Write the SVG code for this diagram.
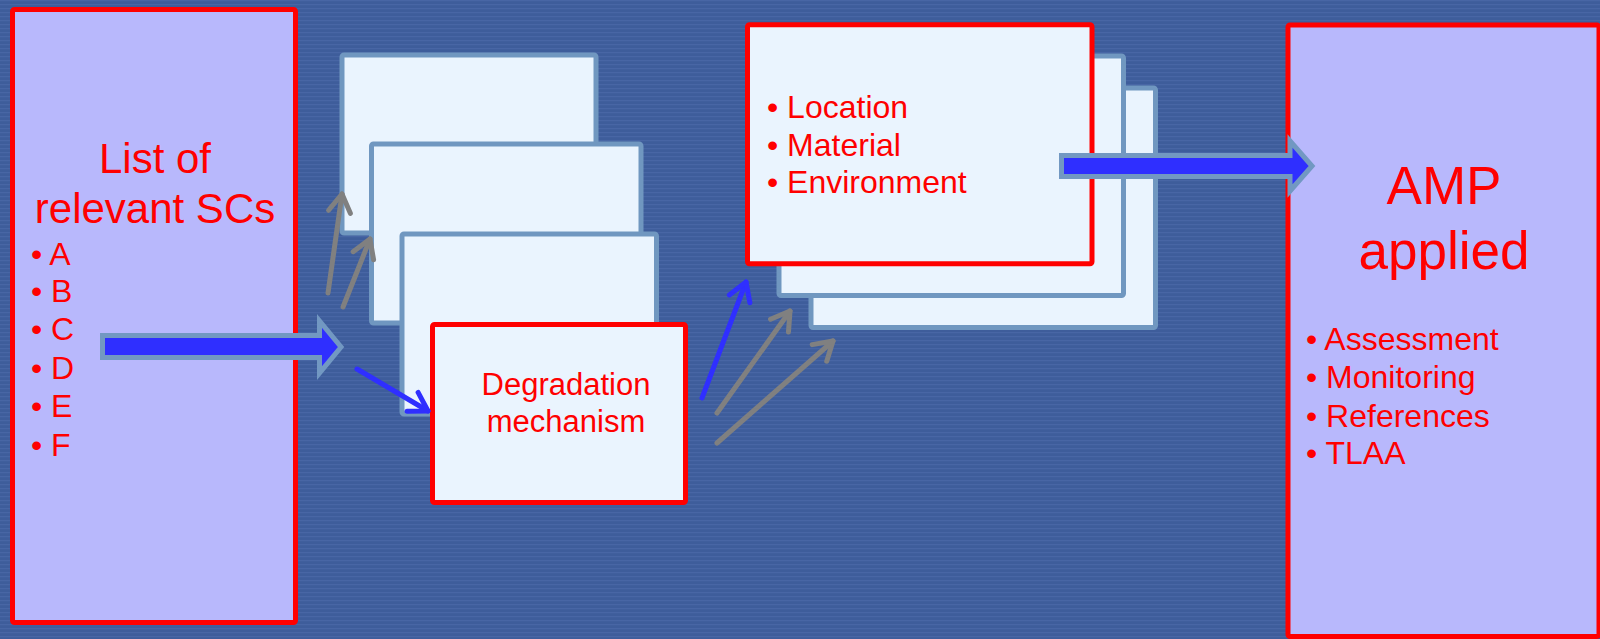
<svg xmlns="http://www.w3.org/2000/svg" width="1600" height="639" viewBox="0 0 1600 639">
  <defs>
    <pattern id="stripes" width="8" height="4" patternUnits="userSpaceOnUse">
      <rect width="8" height="4" fill="#3E5D9B"/>
      <rect y="0" width="8" height="1.2" fill="#4866A5"/>
    </pattern>
    <marker id="headGray" markerUnits="userSpaceOnUse" markerWidth="26" markerHeight="28" viewBox="-3 -2 26 28" refX="18" refY="12" orient="auto">
      <path d="M0,1 L18,12 L0,23" fill="none" stroke="#808080" stroke-width="5" stroke-linecap="round" stroke-linejoin="round"/>
    </marker>
    <marker id="headBlue" markerUnits="userSpaceOnUse" markerWidth="26" markerHeight="28" viewBox="-3 -2 26 28" refX="18" refY="12" orient="auto">
      <path d="M0,1 L18,12 L0,23" fill="none" stroke="#2F2FFF" stroke-width="5" stroke-linecap="round" stroke-linejoin="round"/>
    </marker>
  </defs>
  <style>
    .lav { fill: #B8B8FC; stroke: #FF0000; stroke-width: 5; }
    .card { fill: #EAF4FE; stroke: #7097C0; stroke-width: 5; }
    .front { fill: #EAF4FE; stroke: #FF0000; stroke-width: 5; }
    text { font-family: "Liberation Sans", Arial, sans-serif; fill: #FF0000; }
    .big { font-size: 42px; }
    .amp { font-size: 53px; }
    .item { font-size: 32px; }
    .deg { font-size: 31px; }
    .thin { fill: none; stroke-width: 5; stroke-linecap: round; }
    .gray { stroke: #808080; }
    .blue { stroke: #2F2FFF; }
    .fat { fill: #2F2FFF; stroke: #7298C2; stroke-width: 5; stroke-linejoin: miter; }
  </style>
  <rect width="1600" height="639" fill="url(#stripes)"/>

  <g id="node-list">
    <rect class="lav" x="12.5" y="9.5" width="283" height="613" rx="2"/>
    <text class="big" x="155" y="173" text-anchor="middle">List of</text>
    <text class="big" x="155" y="223" text-anchor="middle">relevant SCs</text>
    <text class="item" x="31" y="265">• A</text>
    <text class="item" x="31" y="302">• B</text>
    <text class="item" x="31" y="340">• C</text>
    <text class="item" x="31" y="379">• D</text>
    <text class="item" x="31" y="417">• E</text>
    <text class="item" x="31" y="456">• F</text>
  </g>

  <g id="node-mech-stack">
    <rect class="card" x="342" y="55" width="254" height="178" rx="2"/>
    <rect class="card" x="371.5" y="144" width="269.5" height="179" rx="2"/>
    <rect class="card" x="402" y="234" width="254.5" height="180" rx="2"/>
  </g>
  <g id="node-degradation">
    <rect class="front" x="432.5" y="324.5" width="253" height="178" rx="2"/>
    <text class="deg" x="566" y="395" text-anchor="middle">Degradation</text>
    <text class="deg" x="566" y="432" text-anchor="middle">mechanism</text>
  </g>

  <g id="node-attr-stack">
    <rect class="card" x="811" y="88" width="344.5" height="239.5" rx="2"/>
    <rect class="card" x="779" y="56" width="344.5" height="239.5" rx="2"/>
  </g>
  <g id="node-attributes">
    <rect class="front" x="747.5" y="24.7" width="344.5" height="239" rx="2"/>
    <text class="item" x="767" y="118">• Location</text>
    <text class="item" x="767" y="156">• Material</text>
    <text class="item" x="767" y="193">• Environment</text>
  </g>

  <g id="node-amp">
    <rect class="lav" x="1288" y="25" width="311" height="611.5" rx="2"/>
    <text class="amp" x="1444" y="204" text-anchor="middle">AMP</text>
    <text class="amp" x="1444" y="269" text-anchor="middle">applied</text>
    <text class="item" x="1306" y="350">• Assessment</text>
    <text class="item" x="1306" y="388">• Monitoring</text>
    <text class="item" x="1306" y="427">• References</text>
    <text class="item" x="1306" y="464">• TLAA</text>
  </g>

  <g id="connectors">
    <path class="fat" d="M102.5,335.5 L319.5,335.5 L319.5,321 L341,347 L319.5,373 L319.5,357.5 L102.5,357.5 Z"/>
    <path class="fat" d="M1061.5,155.5 L1290,155.5 L1290,141 L1312,166 L1290,191 L1290,176.5 L1061.5,176.5 Z"/>
    <line class="thin gray" x1="328" y1="293" x2="342" y2="194" marker-end="url(#headGray)"/>
    <line class="thin gray" x1="343" y1="307" x2="370" y2="239" marker-end="url(#headGray)"/>
    <line class="thin blue" x1="357" y1="369" x2="428" y2="411" marker-end="url(#headBlue)"/>
    <line class="thin blue" x1="702" y1="398" x2="746" y2="282" marker-end="url(#headBlue)"/>
    <line class="thin gray" x1="717" y1="413" x2="790" y2="311" marker-end="url(#headGray)"/>
    <line class="thin gray" x1="717" y1="443" x2="833" y2="341" marker-end="url(#headGray)"/>
  </g>
</svg>
